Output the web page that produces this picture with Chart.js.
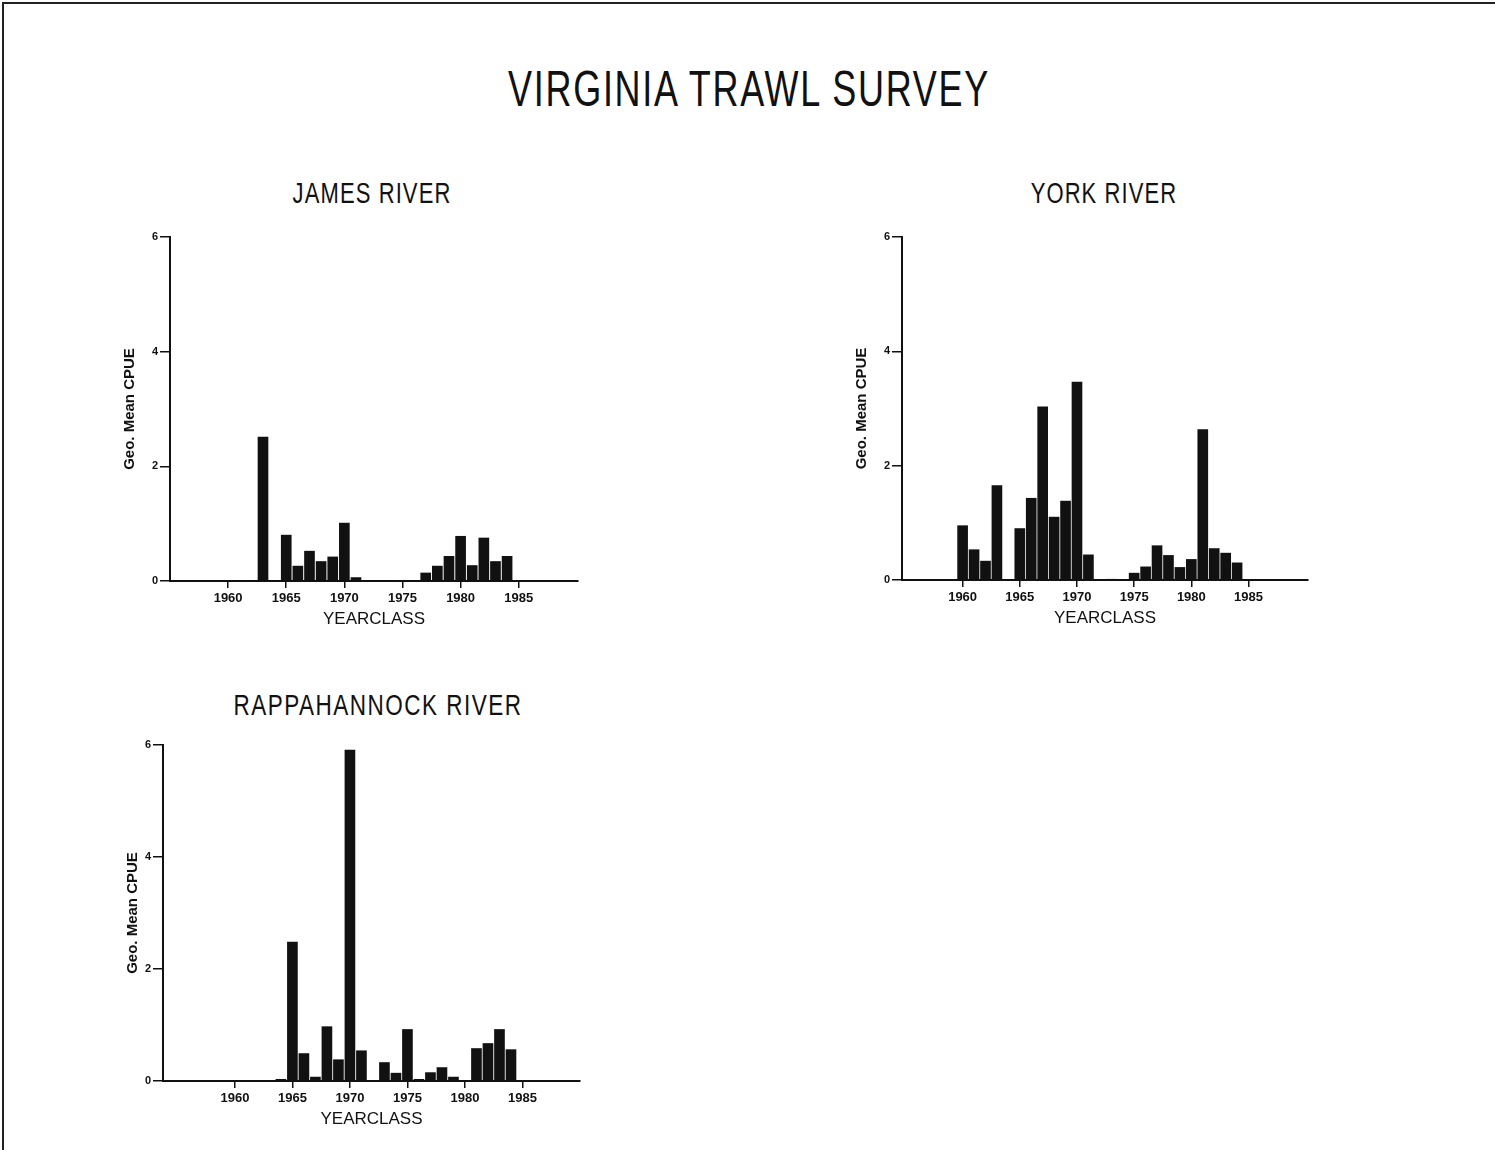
<!DOCTYPE html>
<html>
<head>
<meta charset="utf-8">
<title>Virginia Trawl Survey</title>
<script src="https://cdn.jsdelivr.net/npm/chart.js@4.4.1/dist/chart.umd.min.js"></script>
<style>
  body { margin: 0; background: #fff; width: 1495px; height: 1150px; position: relative; overflow: hidden;
         font-family: "Liberation Sans", Arial, sans-serif; color: #111; }
  .frame { position: absolute; left: 2px; top: 2px; width: 1600px; height: 1300px;
           border-top: 2px solid #222; border-left: 2px solid #222; }
  .ttl { position: absolute; width: 700px; margin-left: -350px; text-align: center; white-space: nowrap;
         line-height: 1; transform-origin: 50% 84.65%; }
  canvas { position: absolute; }
</style>
</head>
<body>
<div class="frame"></div>
<div class="ttl" style="left:749px; top:76px; font-size:36px; letter-spacing:1.7px; transform:scaleY(1.39)">VIRGINIA TRAWL SURVEY</div>
<div class="ttl" style="left:372px; top:185px; font-size:22px; letter-spacing:1.1px; transform:scaleY(1.33)">JAMES RIVER</div>
<div class="ttl" style="left:1104px; top:185px; font-size:22px; letter-spacing:1.1px; transform:scaleY(1.33)">YORK RIVER</div>
<div class="ttl" style="left:378px; top:697px; font-size:22.5px; letter-spacing:1.5px; transform:scaleY(1.3)">RAPPAHANNOCK RIVER</div>

<canvas id="james" width="478" height="407" style="left:110px; top:227px"></canvas>
<canvas id="york" width="476" height="406" style="left:842px; top:227px"></canvas>
<canvas id="rapp" width="477" height="399" style="left:113px; top:735px"></canvas>

<script>
// year classes 1960-1984
const years = [1960, 1961, 1962, 1963, 1964, 1965, 1966, 1967, 1968, 1969,
               1970, 1971, 1972, 1973, 1974, 1975, 1976, 1977, 1978, 1979,
               1980, 1981, 1982, 1983, 1984];
const tickYears = [1960, 1965, 1970, 1975, 1980, 1985];

// geometric mean CPUE
const jamesCpue = [0, 0, 0, 2.51, 0, 0.80, 0.26, 0.52, 0.34, 0.42,
                   1.01, 0.06, 0, 0, 0, 0, 0, 0.14, 0.26, 0.43,
                   0.78, 0.27, 0.75, 0.34, 0.43];
const yorkCpue  = [0.95, 0.53, 0.33, 1.65, 0, 0.90, 1.43, 3.03, 1.10, 1.38,
                   3.46, 0.44, 0, 0.01, 0, 0.12, 0.23, 0.60, 0.43, 0.22,
                   0.36, 2.63, 0.55, 0.47, 0.30];
const rappCpue  = [0, 0, 0, 0, 0.03, 2.48, 0.49, 0.07, 0.97, 0.38,
                   5.91, 0.54, 0, 0.33, 0.14, 0.92, 0.03, 0.15, 0.24, 0.07,
                   0, 0.58, 0.67, 0.92, 0.56];

const fam = '"Liberation Sans", Arial, sans-serif';
const ink = '#111';

function makeChart(id, values, xMin, xMax, yWidth) {
    const ctx = document.getElementById(id).getContext('2d');
    return new Chart(ctx, {
        type: 'bar',
        data: {
            datasets: [{
                data: years.map((yr, i) => ({ x: yr, y: values[i] })),
                backgroundColor: ink,
                barThickness: 10
            }]
        },
        options: {
            responsive: false,
            animation: false,
            layout: { padding: { top: 10, right: 10, left: 0, bottom: 0 } },
            plugins: { legend: { display: false }, tooltip: { enabled: false } },
            scales: {
                x: {
                    type: 'linear', min: xMin, max: xMax, offset: false,
                    afterBuildTicks: s => { s.ticks = tickYears.map(v => ({ value: v })); },
                    afterFit: s => { s.height = 53; },
                    grid: { display: true, offset: false, drawOnChartArea: false, drawTicks: true,
                            tickLength: 7, color: ink, lineWidth: 1.5 },
                    border: { display: true, color: ink, width: 2 },
                    ticks: { color: ink, font: { size: 13, weight: 'bold', family: fam }, padding: 3,
                             maxRotation: 0, autoSkip: false, callback: v => String(v) },
                    title: { display: true, text: 'YEARCLASS', color: ink,
                             font: { size: 17, family: fam }, padding: { top: 2, bottom: 4 } }
                },
                y: {
                    min: 0, max: 6,
                    afterFit: s => { s.width = yWidth; },
                    grid: { display: true, drawOnChartArea: false, drawTicks: true,
                            tickLength: 10, color: ink, lineWidth: 1.5 },
                    border: { display: true, color: ink, width: 2 },
                    ticks: { stepSize: 2, color: ink, font: { size: 11, weight: 'bold', family: fam }, padding: 2 },
                    title: { display: true, text: 'Geo. Mean CPUE', color: ink,
                             font: { size: 15, weight: 'bold', family: fam }, padding: { top: 11, bottom: 0 } }
                }
            }
        }
    });
}

makeChart('james', jamesCpue, 1955, 1990.1, 60);
makeChart('york', yorkCpue, 1954.7, 1990.2, 60);
makeChart('rapp', rappCpue, 1953.75, 1990, 50);
</script>
</body>
</html>
